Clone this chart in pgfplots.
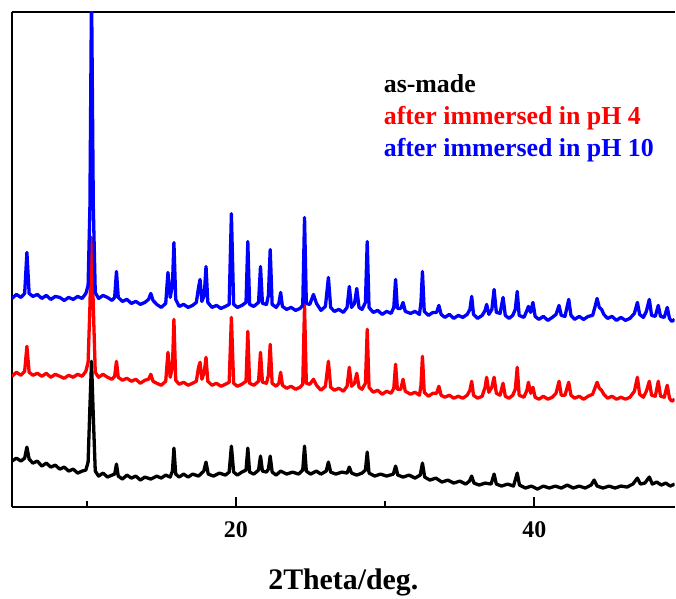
\documentclass[border=0pt]{standalone}
\usepackage{fontspec}
\setmainfont{Liberation Serif}
\usepackage{pgfplots}
\pgfplotsset{compat=1.18}
\definecolor{pblue}{RGB}{0,0,255}
\definecolor{pred}{RGB}{255,0,0}
\begin{document}
\begin{tikzpicture}
\begin{axis}[
  scale only axis,
  width=664bp, height=496bp,
  xmin=5, xmax=49.4, ymin=0, ymax=496,
  axis x line=box, axis y line=left,
  x axis line style={-}, y axis line style={-},
  axis line style={line width=2.6bp, black},
  xtick={20,40}, xticklabels={20,40}, minor xtick={10,30}, ytick=\empty,
  tick align=inside, xtick pos=bottom,
  major tick length=10bp, minor tick length=6bp,
  tick style={line width=2bp, black},
  minor tick style={line width=2bp, black},
  xticklabel style={font=\fontsize{24}{28}\selectfont\bfseries, yshift=-11bp},
  xlabel={2Theta/deg.},
  xlabel style={font=\fontsize{30}{36}\selectfont\bfseries, yshift=-24bp},
  every axis plot/.append style={line width=3.3bp, line join=round},
]
\addplot[black] coordinates {
(5.0,46) (5.3,49) (5.6,46) (5.85,49) (6.0,60) (6.15,48) (6.4,44) (6.7,46) (7.0,41) (7.3,44) (7.6,40) (7.9,42) (8.2,38) (8.5,40) (8.8,36) (9.1,38) (9.4,34) (9.7,36) (9.95,37) (10.1,45) (10.22,100) (10.33,146) (10.45,90) (10.58,36) (10.8,31) (11.1,34) (11.4,30) (11.7,32) (11.88,33) (12.0,43) (12.12,31) (12.4,28) (12.7,32) (13.0,29) (13.3,31) (13.6,27) (13.9,30) (14.3,28) (14.7,31) (15.0,29) (15.3,32) (15.6,30) (15.75,36) (15.85,59) (15.97,33) (16.2,30) (16.5,33) (16.8,30) (17.1,33) (17.5,31) (17.85,36) (18.0,45) (18.15,33) (18.5,31) (18.9,34) (19.3,32) (19.55,35) (19.7,61) (19.85,35) (20.1,32) (20.4,35) (20.68,37) (20.8,59) (20.92,35) (21.2,33) (21.52,37) (21.65,51) (21.78,36) (22.05,35) (22.18,38) (22.3,51) (22.43,35) (22.7,32) (23.0,36) (23.4,33) (23.8,35) (24.2,33) (24.48,37) (24.6,61) (24.72,36) (25.0,33) (25.4,36) (25.7,33) (26.05,36) (26.2,45) (26.35,35) (26.7,33) (27.1,35) (27.45,34) (27.6,40) (27.75,34) (28.1,32) (28.45,34) (28.68,37) (28.8,55) (28.92,34) (29.3,31) (29.7,33) (30.1,31) (30.55,33) (30.7,41) (30.85,32) (31.2,30) (31.6,32) (32.0,29) (32.35,32) (32.5,44) (32.65,30) (33.0,27) (33.4,29) (33.8,25) (34.2,27) (34.6,24) (35.0,26) (35.4,23) (35.65,26) (35.8,31) (35.95,24) (36.3,22) (36.7,24) (37.1,23) (37.3,33) (37.45,23) (37.8,21) (38.2,23) (38.6,21) (38.85,34) (39.0,22) (39.4,19) (39.8,21) (40.2,18) (40.6,21) (41.0,19) (41.4,21) (41.8,19) (42.2,22) (42.6,19) (43.0,21) (43.4,19) (43.8,22) (44.0,27) (44.2,21) (44.6,19) (45.0,21) (45.4,19) (45.8,21) (46.2,20) (46.6,23) (46.9,29) (47.1,23) (47.4,24) (47.7,30) (47.9,23) (48.2,25) (48.5,22) (48.8,24) (49.1,21) (49.4,23)
};
\addplot[pred] coordinates {
(5.0,131) (5.3,135) (5.6,132) (5.85,136) (6.0,161) (6.15,135) (6.4,132) (6.7,134) (7.0,131) (7.3,134) (7.6,130) (7.9,133) (8.2,131) (8.5,129) (8.8,132) (9.1,130) (9.4,133) (9.7,131) (9.95,136) (10.1,145) (10.22,200) (10.33,270) (10.45,200) (10.58,135) (10.8,130) (11.1,133) (11.4,130) (11.7,128) (11.88,131) (12.0,146) (12.12,130) (12.4,127) (12.7,129) (13.0,126) (13.3,128) (13.6,124) (13.9,127) (14.15,128) (14.3,133) (14.45,126) (14.7,124) (15.0,122) (15.3,126) (15.45,155) (15.6,130) (15.75,140) (15.85,188) (15.97,127) (16.2,123) (16.5,125) (16.8,122) (17.1,124) (17.35,126) (17.5,140) (17.6,145) (17.72,128) (17.88,135) (18.0,150) (18.12,126) (18.4,122) (18.7,124) (19.0,121) (19.3,123) (19.55,125) (19.7,190) (19.85,124) (20.1,121) (20.4,123) (20.68,126) (20.8,176) (20.92,124) (21.2,122) (21.52,126) (21.65,155) (21.78,125) (22.05,124) (22.18,132) (22.3,163) (22.43,124) (22.7,121) (22.88,124) (23.0,135) (23.12,122) (23.4,119) (23.7,121) (24.0,118) (24.3,120) (24.48,123) (24.6,202) (24.72,124) (24.95,123) (25.2,128) (25.4,122) (25.7,117) (26.0,121) (26.2,146) (26.35,120) (26.6,117) (26.9,119) (27.2,116) (27.45,121) (27.6,140) (27.75,121) (27.95,124) (28.1,134) (28.25,120) (28.45,118) (28.68,124) (28.8,178) (28.92,120) (29.2,115) (29.5,117) (29.8,113) (30.1,116) (30.4,114) (30.58,119) (30.7,143) (30.82,118) (31.05,118) (31.2,128) (31.35,116) (31.7,113) (32.0,115) (32.3,112) (32.4,122) (32.5,151) (32.62,115) (32.9,111) (33.2,114) (33.45,114) (33.6,121) (33.75,112) (34.0,110) (34.3,112) (34.6,109) (34.9,111) (35.2,109) (35.5,112) (35.68,117) (35.8,126) (35.92,112) (36.2,109) (36.5,111) (36.7,120) (36.8,130) (36.95,115) (37.15,120) (37.3,130) (37.45,114) (37.7,112) (37.9,124) (38.05,111) (38.3,109) (38.55,112) (38.72,118) (38.85,140) (38.98,112) (39.3,110) (39.5,117) (39.6,125) (39.75,114) (39.9,120) (40.05,110) (40.3,108) (40.6,111) (40.9,108) (41.2,110) (41.45,114) (41.65,126) (41.8,112) (42.05,112) (42.3,125) (42.45,112) (42.7,109) (43.0,111) (43.3,108) (43.6,111) (43.9,113) (44.05,119) (44.2,125) (44.35,119) (44.5,117) (44.65,113) (44.9,109) (45.2,111) (45.5,108) (45.8,110) (46.1,108) (46.4,110) (46.7,116) (46.9,130) (47.05,113) (47.3,110) (47.5,116) (47.7,126) (47.85,112) (48.1,111) (48.3,126) (48.45,111) (48.7,110) (48.9,122) (49.05,109) (49.2,106) (49.4,108)
};
\addplot[pblue] coordinates {
(5.0,209) (5.3,213) (5.6,210) (5.85,214) (6.0,255) (6.15,214) (6.4,211) (6.7,213) (7.0,209) (7.3,212) (7.6,208) (7.9,211) (8.2,210) (8.5,207) (8.8,210) (9.1,208) (9.4,211) (9.7,209) (9.95,214) (10.1,222) (10.22,300) (10.33,520) (10.45,300) (10.58,215) (10.8,209) (11.1,212) (11.4,210) (11.7,207) (11.88,210) (12.0,236) (12.12,210) (12.4,206) (12.7,208) (13.0,204) (13.3,206) (13.6,203) (13.9,205) (14.15,208) (14.3,214) (14.45,207) (14.7,203) (15.0,200) (15.3,204) (15.45,235) (15.6,210) (15.75,222) (15.85,265) (15.97,208) (16.2,201) (16.5,203) (16.8,200) (17.1,202) (17.35,205) (17.5,220) (17.6,228) (17.72,206) (17.88,212) (18.0,241) (18.12,205) (18.4,200) (18.7,202) (19.0,199) (19.3,201) (19.55,203) (19.7,294) (19.85,203) (20.1,200) (20.4,202) (20.68,205) (20.8,266) (20.92,203) (21.2,201) (21.52,205) (21.65,241) (21.78,204) (22.05,203) (22.18,212) (22.3,258) (22.43,203) (22.7,200) (22.88,204) (23.0,215) (23.12,201) (23.4,198) (23.7,200) (24.0,197) (24.3,199) (24.48,202) (24.6,290) (24.72,204) (24.95,203) (25.2,213) (25.4,204) (25.7,197) (26.0,201) (26.2,230) (26.35,200) (26.6,196) (26.9,198) (27.2,195) (27.45,200) (27.6,221) (27.75,200) (27.95,204) (28.1,219) (28.25,200) (28.45,198) (28.68,205) (28.8,266) (28.92,200) (29.2,195) (29.5,197) (29.8,193) (30.1,196) (30.4,194) (30.58,200) (30.7,228) (30.82,199) (31.05,199) (31.2,205) (31.35,196) (31.7,194) (32.0,196) (32.3,193) (32.4,205) (32.5,236) (32.62,196) (32.9,192) (33.2,195) (33.45,195) (33.6,202) (33.75,193) (34.0,190) (34.3,193) (34.6,189) (34.9,192) (35.2,190) (35.5,193) (35.68,198) (35.8,211) (35.92,193) (36.2,189) (36.5,192) (36.7,197) (36.8,203) (36.95,193) (37.15,198) (37.3,218) (37.45,195) (37.7,194) (37.9,210) (38.05,192) (38.3,189) (38.55,192) (38.72,198) (38.85,216) (38.98,192) (39.3,190) (39.5,197) (39.6,201) (39.75,195) (39.9,205) (40.05,191) (40.3,188) (40.6,191) (40.9,187) (41.2,190) (41.45,193) (41.65,202) (41.8,192) (42.05,191) (42.3,208) (42.45,192) (42.7,188) (43.0,191) (43.3,188) (43.6,191) (43.9,192) (44.05,200) (44.2,209) (44.35,200) (44.5,198) (44.65,193) (44.9,189) (45.2,191) (45.5,187) (45.8,190) (46.1,187) (46.4,189) (46.7,194) (46.9,205) (47.05,193) (47.3,190) (47.5,196) (47.7,208) (47.85,192) (48.1,191) (48.3,202) (48.45,191) (48.7,190) (48.9,200) (49.05,189) (49.2,186) (49.4,188)
};
\node[anchor=base west, inner sep=0pt, font=\fontsize{26}{31}\selectfont\bfseries, text=black] at (axis cs:29.9,415) {as-made};
\node[anchor=base west, inner sep=0pt, font=\fontsize{26}{31}\selectfont\bfseries, text=pred] at (axis cs:29.9,383) {after immersed in pH 4};
\node[anchor=base west, inner sep=0pt, font=\fontsize{26}{31}\selectfont\bfseries, text=pblue] at (axis cs:29.9,351) {after immersed in pH 10};
\end{axis}
\path ([shift={(-12bp,-84bp)}]current axis.south west) rectangle ([shift={(0bp,12bp)}]current axis.north east);
\end{tikzpicture}
\end{document}
